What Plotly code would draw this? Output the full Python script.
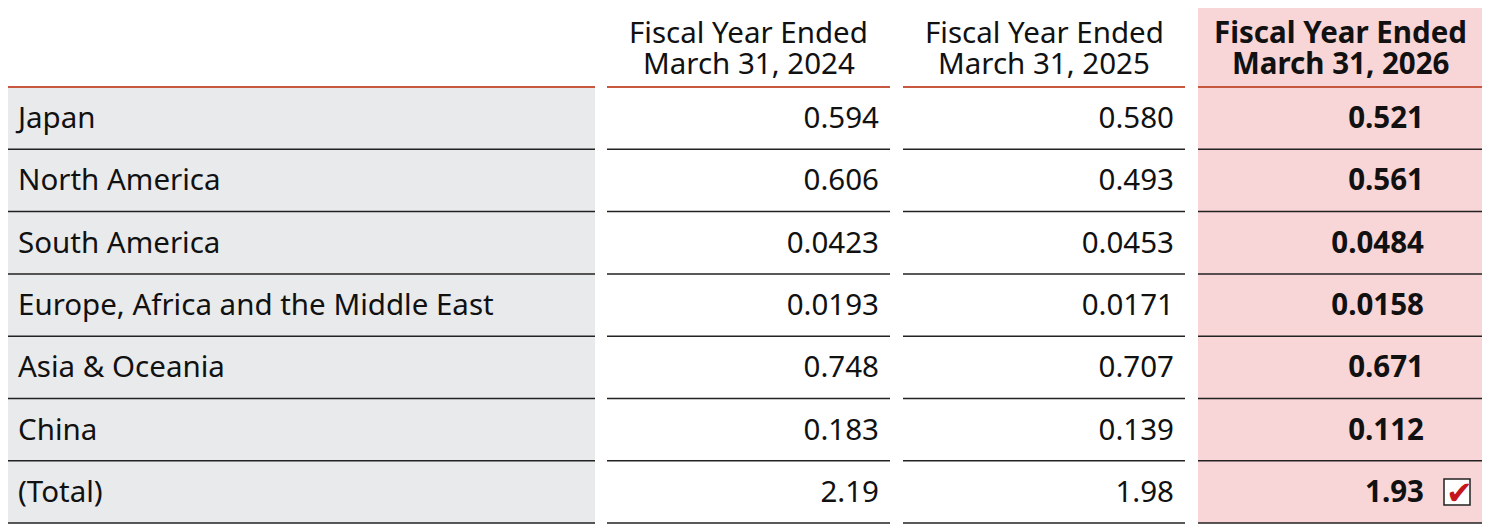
import plotly.graph_objects as go

regions = ["Japan", "North America", "South America",
           "Europe, Africa and the Middle East", "Asia & Oceania", "China", "(Total)"]
fy2024 = ["0.594", "0.606", "0.0423", "0.0193", "0.748", "0.183", "2.19"]
fy2025 = ["0.580", "0.493", "0.0453", "0.0171", "0.707", "0.139", "1.98"]
fy2026 = ["0.521", "0.561", "0.0484", "0.0158", "0.671", "0.112", "1.93"]
head_line1 = ["Fiscal Year Ended", "Fiscal Year Ended", "Fiscal Year Ended"]
head_line2 = ["March 31, 2024", "March 31, 2025", "March 31, 2026"]

W, H = 1491, 531
OFF = 8  # page body margin
FONT = "Noto Sans"
FS = 29.5
# column edges (left, right) in pixels
cols = [(5, 595), (607, 890), (903, 1185), (1198, 1482)]
top, head_bot, row_h = 5, 87, 62.3
n = len(regions)
row_mid = [head_bot + row_h * (i + 0.5) for i in range(n)]
row_line = [head_bot + row_h * (i + 1) for i in range(n)]
text_y = [y + 2.5 for y in row_mid]

fig = go.Figure()
shapes = []

# backgrounds
shapes.append(dict(type="rect", x0=cols[0][0], x1=cols[0][1], y0=head_bot, y1=row_line[-1],
                   fillcolor="#e9eaeb", line_width=0, layer="below"))
shapes.append(dict(type="rect", x0=cols[3][0], x1=cols[3][1], y0=top, y1=row_line[-1],
                   fillcolor="#f8d5d6", line_width=0, layer="below"))

# header underline + row lines
for x0, x1 in cols:
    shapes.append(dict(type="line", x0=x0, x1=x1, y0=head_bot, y1=head_bot,
                       line=dict(color="#c8573f", width=2)))
    for y in row_line:
        shapes.append(dict(type="line", x0=x0, x1=x1, y0=y, y1=y,
                           line=dict(color="#222", width=1.5)))

tf = dict(family=FONT, size=FS, color="#111")

# region labels
fig.add_trace(go.Scatter(x=[cols[0][0] + 13] * n, y=text_y, text=regions, mode="text",
                         textposition="middle right", textfont=tf))

# value columns
fig.add_trace(go.Scatter(x=[cols[1][1] - 11] * n, y=text_y, text=fy2024, mode="text",
                         textposition="middle left", textfont=tf))
fig.add_trace(go.Scatter(x=[cols[2][1] - 11] * n, y=text_y, text=fy2025, mode="text",
                         textposition="middle left", textfont=tf))
fig.add_trace(go.Scatter(x=[cols[3][1] - 58] * n, y=text_y,
                         text=["<b>%s</b>" % v for v in fy2026], mode="text",
                         textposition="middle left", textfont=tf))

# headers
for i in range(3):
    x0, x1 = cols[i + 1]
    for txt, y in ((head_line1[i], 31), (head_line2[i], 62)):
        if i == 2:
            txt = "<b>%s</b>" % txt
        fig.add_annotation(x=(x0 + x1) / 2, y=y, text=txt, showarrow=False,
                           yanchor="middle", font=tf)

# check box on the total
fig.add_trace(go.Scatter(x=[cols[3][1] - 25], y=[row_mid[-1]], mode="markers",
                         marker=dict(symbol="square", size=26, color="white",
                                     line=dict(color="#222", width=1.5))))
fig.add_annotation(x=cols[3][1] - 23, y=row_mid[-1] + 1, text="\u2714", showarrow=False,
                   font=dict(family="DejaVu Sans", size=32, color="#c4161c"))

fig.update_layout(
    width=W, height=H, margin=dict(l=0, r=0, t=0, b=0),
    paper_bgcolor="white", plot_bgcolor="white", showlegend=False,
    shapes=shapes,
    xaxis=dict(range=[OFF, W + OFF], visible=False, fixedrange=True),
    yaxis=dict(range=[H + OFF, OFF], visible=False, fixedrange=True),
)

fig.write_html("out.html")
